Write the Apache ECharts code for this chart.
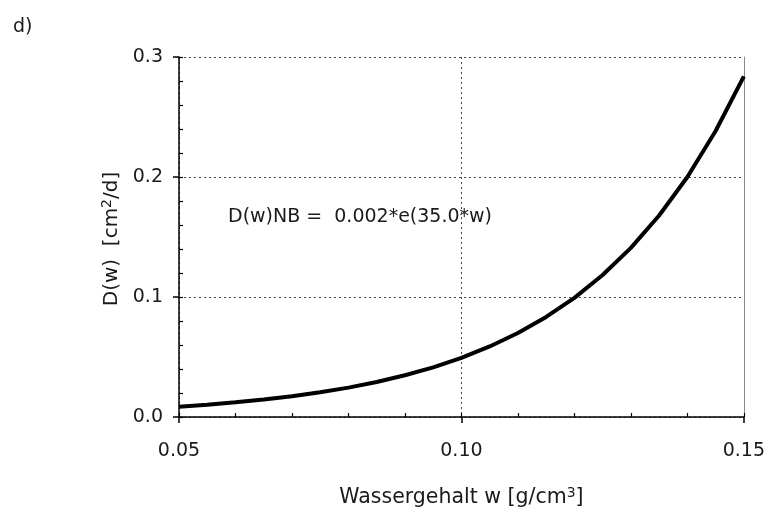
<!DOCTYPE html>
<html><head><meta charset="utf-8">
<script src="https://cdn.jsdelivr.net/npm/echarts@6/dist/echarts.min.js"></script>
<style>html,body{margin:0;padding:0;background:#fff}#c{width:768px;height:514px}</style>
</head><body><div id="c"></div>
<script>
var wValues = [0.050,0.055,0.060,0.065,0.070,0.075,0.080,0.085,0.090,0.095,0.100,0.105,0.110,0.115,0.120,0.125,0.130,0.135,0.140,0.145,0.150];
var dValues = [0.0086,0.0102,0.0122,0.0145,0.0173,0.0206,0.0245,0.0292,0.0348,0.0414,0.0493,0.0588,0.0700,0.0834,0.0993,0.1183,0.1409,0.1679,0.2000,0.2383,0.2838];
var xTickLabels = ['0.05','0.10','0.15'];
var yTickLabels = ['0.0','0.1','0.2','0.3'];
var annotation = 'D(w)NB =  0.002*e(35.0*w)';
var panelLabel = 'd)';

var FONT = '"DejaVu Sans", sans-serif';
var chart = echarts.init(document.getElementById('c'));
var pts = wValues.map(function(w,i){return [w,dValues[i]];});
var grid = {left:179,right:23,top:57,bottom:97};
chart.setOption({
  animation:false,
  grid:grid,
  textStyle:{fontFamily:FONT},
  xAxis:[{
    type:'value',min:0.05,max:0.15,interval:0.05,
    axisLine:{show:true,lineStyle:{color:'#000',width:1.5}},
    axisTick:{show:true,inside:false,length:6,lineStyle:{color:'#000',width:1.5}},
    axisLabel:{margin:25,fontSize:19,color:'#1a1a1a',fontFamily:FONT,
      formatter:function(v){var i=Math.round((v-0.05)/0.05);return xTickLabels[i]||'';}},
    splitLine:{show:true,lineStyle:{type:[2,3],color:'#444',width:1}},
    name:'{n|Wassergehalt w [g/cm}{s|3}{n|]}',nameLocation:'middle',nameGap:69,
    nameTextStyle:{rich:{n:{fontSize:20.5,color:'#1a1a1a',fontFamily:FONT},s:{fontSize:14,color:'#1a1a1a',fontFamily:FONT,verticalAlign:'top',padding:[0,0,9,0]}}}
  },{
    type:'value',min:0.05,max:0.15,interval:0.01,position:'bottom',
    axisLine:{show:false},
    axisTick:{show:true,inside:true,length:4,lineStyle:{color:'#000',width:1.2}},
    axisLabel:{show:false},splitLine:{show:false}
  }],
  yAxis:[{
    type:'value',min:0,max:0.3,interval:0.1,
    axisLine:{show:true,lineStyle:{color:'#000',width:1.5}},
    axisTick:{show:true,inside:false,length:6,lineStyle:{color:'#000',width:1.5}},
    axisLabel:{margin:16,fontSize:19,color:'#1a1a1a',fontFamily:FONT,
      formatter:function(v){var i=Math.round(v/0.1);return yTickLabels[i]||'';}},
    splitLine:{show:true,lineStyle:{type:[2,3],color:'#444',width:1}},
    name:'{n|D(w)  [cm}{s|2}{n|/d]}',nameLocation:'middle',nameGap:55,nameRotate:90,
    nameTextStyle:{padding:[0,4,0,0],rich:{n:{fontSize:20,color:'#1a1a1a',fontFamily:FONT},s:{fontSize:14,color:'#1a1a1a',fontFamily:FONT,verticalAlign:'top',padding:[0,0,9,0]}}}
  },{
    type:'value',min:0,max:0.3,interval:0.02,position:'left',
    axisLine:{show:false},
    axisTick:{show:true,inside:true,length:4,lineStyle:{color:'#000',width:1.2}},
    axisLabel:{show:false},splitLine:{show:false}
  },{
    type:'value',min:0,max:0.3,position:'right',
    axisLine:{show:true,lineStyle:{color:'#888',width:1}},
    axisTick:{show:false},axisLabel:{show:false},splitLine:{show:false}
  }],
  graphic:[
    {type:'text',left:13,top:18,style:{text:panelLabel,fontSize:19,fill:'#1a1a1a',fontFamily:FONT}},
    {type:'text',left:228,top:208,style:{text:annotation,fontSize:19,fill:'#1a1a1a',fontFamily:FONT}}
  ],
  series:[{
    type:'line',data:pts,xAxisIndex:0,yAxisIndex:0,showSymbol:false,
    lineStyle:{color:'#000',width:4},z:5
  }]
});
</script></body></html>
